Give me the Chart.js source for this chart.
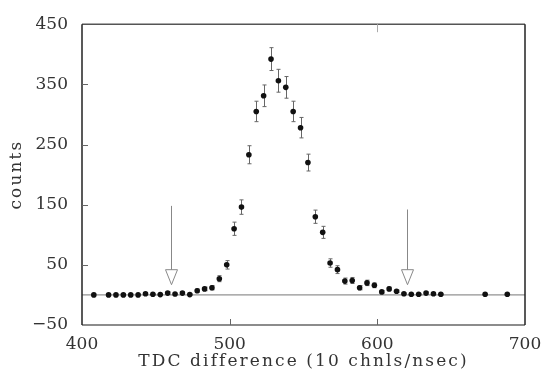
<!DOCTYPE html>
<html>
<head>
<meta charset="utf-8">
<script src="https://cdn.jsdelivr.net/npm/chart.js@4.4.1/dist/chart.umd.min.js"></script>
<style>
  html, body { margin: 0; padding: 0; background: #fff; }
  #wrap { width: 544px; height: 372px; }
</style>
</head>
<body>
<div id="wrap"><canvas id="c" width="544" height="372"></canvas></div>
<script>
// TDC difference bins (10 chnls/nsec)
const tdc = [408, 418, 423, 428, 433, 438, 443, 448, 453, 458, 463, 468, 473, 478, 483, 488,
  493, 498, 503, 508, 513, 518, 523, 528, 533, 538, 543, 548, 553, 558, 563, 568, 573, 578,
  583, 588, 593, 598, 603, 608, 613, 618, 623, 628, 633, 638, 643, 673, 688];
const counts = [0, 0, 0, 0, 0, 0, 2, 1, 0.5, 3, 1.5, 3, 0.5, 7, 10, 12,
  27, 50, 110, 146, 233, 305, 331, 392, 356, 345, 305, 278, 220, 130, 104, 53, 42, 23,
  24, 12, 20, 16, 5, 10, 6, 2, 1, 1, 3, 2, 1, 1, 1];
const errors = [0, 0, 0, 0, 0, 0, 1, 1, 1, 2, 1, 2, 1, 3, 3, 3.5,
  5, 7, 11, 12, 15, 17, 18, 19, 19, 18, 17, 17, 14, 11, 10, 7, 6.5, 5,
  5, 3.5, 4.5, 4, 2, 3, 2, 1, 1, 1, 2, 1, 1, 1, 1];
const xTicks = [400, 500, 600, 700];
const yTicks = [-50, 50, 150, 250, 350, 450];
const zeroLine = [400, 700];
// cut markers
const arrowX = [460, 620];
const arrowFrom = [148, 142];
const arrowTo = [17, 17];

const serif = "'DejaVu Serif'";

const decor = {
  id: 'decor',
  beforeDraw(chart) {
    // axis titles are drawn with the grid layer, before the datasets
    chart.ctx.letterSpacing = '2.1px';
  },
  beforeDatasetsDraw(chart) {
    const { ctx, scales: { x, y } } = chart;
    ctx.letterSpacing = '0px';
    ctx.save();
    // error bars
    ctx.strokeStyle = '#666';
    ctx.lineWidth = 1;
    tdc.forEach((t, i) => {
      if (!errors[i]) return;
      const px = Math.round(x.getPixelForValue(t)) + 0.5;
      const y1 = y.getPixelForValue(counts[i] + errors[i]);
      const y2 = y.getPixelForValue(counts[i] - errors[i]);
      ctx.beginPath();
      ctx.moveTo(px, y1); ctx.lineTo(px, y2);
      ctx.moveTo(px - 2, y1); ctx.lineTo(px + 2, y1);
      ctx.moveTo(px - 2, y2); ctx.lineTo(px + 2, y2);
      ctx.stroke();
    });
    // arrows
    arrowX.forEach((v, i) => {
      const px = Math.round(x.getPixelForValue(v)) + 0.5;
      const top = y.getPixelForValue(arrowFrom[i]);
      const tip = y.getPixelForValue(arrowTo[i]);
      ctx.strokeStyle = '#888';
      ctx.lineWidth = 1;
      ctx.beginPath();
      ctx.moveTo(px, top); ctx.lineTo(px, tip - 14);
      ctx.stroke();
      ctx.beginPath();
      ctx.moveTo(px - 6, tip - 15);
      ctx.lineTo(px + 6, tip - 15);
      ctx.lineTo(px, tip);
      ctx.closePath();
      ctx.fillStyle = '#fff';
      ctx.fill();
      ctx.stroke();
    });
    ctx.restore();
  },
  afterDraw(chart) {
    const { ctx, chartArea: a, scales: { x, y } } = chart;
    ctx.save();
    // frame
    ctx.lineWidth = 1.5;
    ctx.strokeStyle = '#555';
    ctx.beginPath(); ctx.moveTo(a.left, a.top); ctx.lineTo(a.right, a.top); ctx.stroke();
    ctx.strokeStyle = '#666';
    ctx.beginPath(); ctx.moveTo(a.left, a.bottom); ctx.lineTo(a.right, a.bottom); ctx.stroke();
    ctx.strokeStyle = '#222';
    ctx.beginPath(); ctx.moveTo(a.left, a.top); ctx.lineTo(a.left, a.bottom); ctx.stroke();
    ctx.beginPath(); ctx.moveTo(a.right, a.top); ctx.lineTo(a.right, a.bottom); ctx.stroke();
    // inward ticks
    ctx.lineWidth = 1;
    ctx.strokeStyle = '#666';
    yTicks.slice(1, -1).forEach(v => {
      const py = Math.round(y.getPixelForValue(v)) + 0.5;
      ctx.beginPath(); ctx.moveTo(a.left, py); ctx.lineTo(a.left + 6, py); ctx.stroke();
    });
    xTicks.slice(1, -1).forEach(v => {
      const px = Math.round(x.getPixelForValue(v)) + 0.5;
      ctx.beginPath(); ctx.moveTo(px, a.bottom); ctx.lineTo(px, a.bottom - 6); ctx.stroke();
    });
    const tp = Math.round(x.getPixelForValue(600)) + 0.5;
    ctx.strokeStyle = '#aaa';
    ctx.beginPath(); ctx.moveTo(tp, a.top); ctx.lineTo(tp, a.top + 8); ctx.stroke();
    ctx.restore();
  }
};

new Chart(document.getElementById('c'), {
  type: 'scatter',
  data: {
    datasets: [
      {
        label: 'counts',
        data: tdc.map((t, i) => ({ x: t, y: counts[i] })),
        pointRadius: 2.8,
        pointBackgroundColor: '#111',
        pointBorderWidth: 0
      },
      {
        label: 'zero',
        type: 'line',
        data: zeroLine.map(v => ({ x: v, y: 0 })),
        borderColor: '#777',
        borderWidth: 1,
        pointRadius: 0
      }
    ]
  },
  options: {
    responsive: false,
    animation: false,
    layout: { padding: { left: 0, right: 19, top: 17, bottom: 0 } },
    plugins: { legend: { display: false }, tooltip: { enabled: false } },
    scales: {
      x: {
        type: 'linear',
        min: 400, max: 700,
        afterBuildTicks: s => { s.ticks = xTicks.map(v => ({ value: v })); },
        afterFit: s => { s.height = 47; s.paddingLeft = 0; s.paddingRight = 0; },
        grid: { display: false, drawTicks: false, z: 0 },
        border: { display: false },
        ticks: { z: 1, color: '#333', padding: 9, font: { family: serif, size: 17 } },
        title: {
          display: true, text: 'TDC difference (10 chnls/nsec)', color: '#333',
          padding: { top: 0, bottom: 0 }, font: { family: serif, size: 17 }
        }
      },
      y: {
        min: -50, max: 450,
        afterBuildTicks: s => { s.ticks = yTicks.map(v => ({ value: v })); },
        afterFit: s => { s.width = 82; },
        grid: { display: false, drawTicks: false, z: 0 },
        border: { display: false },
        ticks: {
          z: 1, color: '#333', padding: 14, font: { family: serif, size: 17 },
          callback: v => String(v).replace('-', '\u2212')
        },
        title: {
          display: true, text: 'counts', color: '#333',
          padding: { top: 6, bottom: 0 }, font: { family: serif, size: 17 }
        }
      }
    }
  },
  plugins: [decor]
});
</script>
</body>
</html>
